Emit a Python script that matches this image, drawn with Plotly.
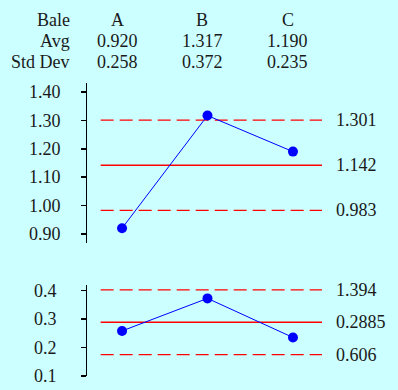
import plotly.graph_objects as go

bales = ["A", "B", "C"]
avg = [0.920, 1.317, 1.190]
std = [0.258, 0.372, 0.235]

avg_lines = [1.301, 1.142, 0.983]
avg_labels = ["1.301", "1.142", "0.983"]
avg_dash = ["dash", "solid", "dash"]

std_lines = [0.402, 0.2885, 0.175]
std_labels = ["1.394", "0.2885", "0.606"]
std_dash = ["dash", "solid", "dash"]

avg_ticks = [0.90, 1.00, 1.10, 1.20, 1.30, 1.40]
avg_long_ticks = [1.10]
std_ticks = [0.1, 0.2, 0.3, 0.4]
std_long_ticks = [0.1, 0.2, 0.3]

FONT = "Liberation Serif, Times New Roman, serif"
FS = 18
TXT = "#1a1a1a"
BG = "#ccffff"
RED = "#ff0000"
BLUE = "#0000ff"
DASH = "13px,6px"
xs = list(range(len(bales)))

fig = go.Figure()
fig.add_trace(go.Scatter(x=xs, y=avg, mode="lines+markers", xaxis="x", yaxis="y",
                         line=dict(color=BLUE, width=1),
                         marker=dict(color=BLUE, size=10), hoverinfo="skip"))
fig.add_trace(go.Scatter(x=xs, y=std, mode="lines+markers", xaxis="x", yaxis="y2",
                         line=dict(color=BLUE, width=1),
                         marker=dict(color=BLUE, size=10), hoverinfo="skip"))

shapes = []
ann = []
for yref, vals, labs, dashes in (("y", avg_lines, avg_labels, avg_dash),
                                 ("y2", std_lines, std_labels, std_dash)):
    for v, lab, d in zip(vals, labs, dashes):
        shapes.append(dict(type="line", xref="x", yref=yref, x0=-0.25, x1=2.34, y0=v, y1=v,
                           line=dict(color=RED, width=1.4, dash=DASH if d == "dash" else "solid"),
                           layer="below"))
        ann.append(dict(xref="paper", yref=yref, x=1, y=v, text=lab, showarrow=False,
                        xanchor="left", xshift=12, font=dict(size=FS, color=TXT, family=FONT)))

# header table (pixel helpers relative to plot area 87..322 x, 83..376 y)
def py(pix):
    return (376 - pix) / 293.0

def px(pix):
    return (pix - 87) / 235.0

rows = [("Bale", bales, 20), ("Avg", [f"{v:.3f}" for v in avg], 41),
        ("Std Dev", [f"{v:.3f}" for v in std], 62)]
for name, vals, yp in rows:
    ann.append(dict(xref="paper", yref="paper", x=px(72), y=py(yp), text=name, showarrow=False,
                    xanchor="right", yanchor="middle", font=dict(size=FS, color=TXT, family=FONT)))
    for i, t in enumerate(vals):
        ann.append(dict(xref="x", yref="paper", x=xs[i], y=py(yp), text=t, showarrow=False,
                        xanchor="center", yanchor="middle", xshift=-5,
                        font=dict(size=FS, color=TXT, family=FONT)))

yax_common = dict(showline=True, linecolor="black", linewidth=1.5, ticks="outside",
                  ticklen=4.5, tickcolor="black", tickwidth=1.5, showgrid=False, zeroline=False,
                  automargin=False, fixedrange=True,
                  tickfont=dict(size=FS, color=TXT, family=FONT))
yax_long = dict(showline=False, ticks="outside", ticklen=9, tickcolor="black", tickwidth=1.5,
                showgrid=False, zeroline=False, showticklabels=False, automargin=False,
                fixedrange=True)

TOP_RANGE = [0.868, 1.4317]
BOT_RANGE = [0.1, 0.419]

fig.update_layout(
    width=398, height=390,
    margin=dict(l=87, r=76, t=83, b=14, autoexpand=False),
    paper_bgcolor=BG, plot_bgcolor=BG,
    font=dict(family=FONT, color=TXT, size=FS),
    showlegend=False,
    xaxis=dict(range=[-0.41, 2.34], visible=False, fixedrange=True, automargin=False),
    yaxis=dict(domain=[0.4539, 1], range=TOP_RANGE, tickvals=avg_ticks,
               tickformat=".2f", ticklabelstandoff=17, **yax_common),
    yaxis2=dict(domain=[0, 0.3106], range=BOT_RANGE, tickvals=std_ticks,
                tickformat=".1f", ticklabelstandoff=21, **yax_common),
    yaxis3=dict(overlaying="y", range=TOP_RANGE, tickvals=avg_long_ticks, **yax_long),
    yaxis4=dict(overlaying="y2", range=BOT_RANGE, tickvals=std_long_ticks, **yax_long),
    shapes=shapes,
    annotations=ann,
)

post = "document.documentElement.style.margin='0';document.body.style.margin='0';"

fig.write_html("out.html", config={"displayModeBar": False, "staticPlot": True},
               post_script=post)
